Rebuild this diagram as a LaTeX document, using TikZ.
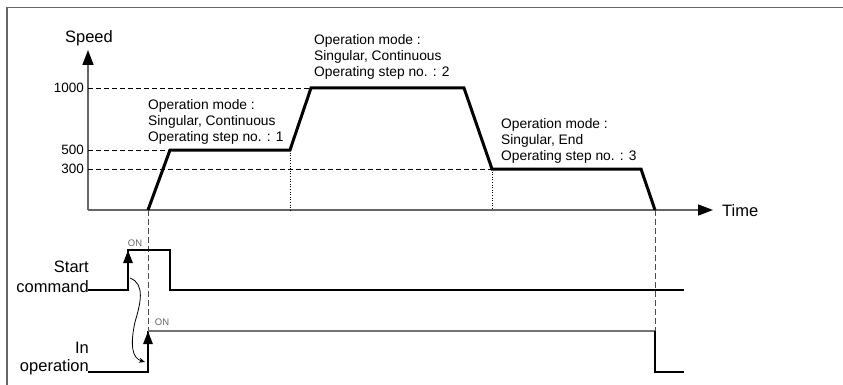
\documentclass[tikz,border=0pt]{standalone}
\usepackage{fontspec}
\setmainfont{Liberation Sans}
\usetikzlibrary{arrows.meta}
\begin{document}
\begin{tikzpicture}[x=1pt,y=-1pt,
  axis/.style={draw=black!60,line width=1.6pt},
  prof/.style={line width=3pt,line join=miter},
  guide/.style={line width=0.8pt,dash pattern=on 5pt off 3pt},
  vdash/.style={black!70,line width=0.8pt,dash pattern=on 6pt off 3pt},
  vdot/.style={line width=0.6pt,dotted},
  sig/.style={line width=1.3pt},
  bigtip/.style={-{Triangle[length=15pt,width=11pt,color=black]}},
  edge/.style={line width=2.6pt,-{Triangle[length=13pt,width=9pt]}},
  lbl/.style={font=\fontsize{13.8}{16}\selectfont,align=left,inner sep=0pt,anchor=west},
  big/.style={font=\fontsize{16.5}{19}\selectfont,inner sep=0pt},
  ytick/.style={font=\fontsize{13.5}{16}\selectfont,inner sep=0pt,anchor=east},
  onl/.style={font=\fontsize{9.5}{11}\selectfont,text=black!60,inner sep=0pt}]
\useasboundingbox (0,0) rectangle (843,385);
% frame
\draw[black!60,line width=1.5pt] (7,385) -- (7,7.5) -- (843,7.5);
% coordinates
\coordinate (o) at (88,210);
\coordinate (ytop) at (88,50);
\coordinate (xend) at (713,210);
\coordinate (p0) at (148,210);
\coordinate (p1) at (170,150);
\coordinate (p2) at (290,150);
\coordinate (p3) at (311,88);
\coordinate (p4) at (464,88);
\coordinate (p5) at (492,169);
\coordinate (p6) at (641,169);
\coordinate (p7) at (655,210);
\coordinate (y1000) at (88,88);
\coordinate (y500) at (88,150);
\coordinate (y300) at (88,169);
% axes
\draw[axis,bigtip] (o) -- (ytop);
\draw[axis,bigtip] (o) -- (xend);
\node[big] (speed) at (89,38) {Speed};
\node[big,anchor=west] (time) at (722,211) {Time};
% guides
\draw[guide] (y1000) -- (p3);
\draw[guide] (y500) -- (p1);
\draw[guide] (y300) -- (p5);
\node[ytick] (t1000) at (84,88) {1000};
\node[ytick] (t500) at (84,150) {500};
\node[ytick] (t300) at (84,169) {300};
\draw[vdot] (p2) -- (290,210);
\draw[vdot] (p5) -- (492,210);
% profile
\draw[prof] (p0) -- (p1) -- (p2) -- (p3) -- (p4) -- (p5) -- (p6) -- (p7);
% annotations
\node[lbl] (a1) at (148,122) {Operation mode :\\Singular, Continuous\\Operating step no. : 1};
\node[lbl] (a2) at (314,57) {Operation mode :\\Singular, Continuous\\Operating step no. : 2};
\node[lbl] (a3) at (501,141) {Operation mode :\\Singular, End\\Operating step no. : 3};
% vertical dashed
\draw[vdash] (p0) -- (148,331);
\draw[vdash] (p7) -- (655,331);
% start command signal
\coordinate (s0) at (88,290);
\coordinate (s1) at (128,290);
\coordinate (s2) at (128,250);
\coordinate (s3) at (170,250);
\coordinate (s4) at (170,290);
\coordinate (s5) at (684,290);
\draw[sig] (s0) -- (s1) -- (s2) -- (s3) -- (s4) -- (s5);
\draw[edge] (s1) -- (s2);
\node[big,anchor=east] (st1) at (89,267) {Start};
\node[big,anchor=east] (st2) at (89,287) {command};
\node[onl] (on1) at (135,243) {ON};
% in operation signal
\coordinate (i0) at (88,372);
\coordinate (i1) at (148,372);
\coordinate (i2) at (148,331);
\coordinate (i3) at (655,331);
\coordinate (i4) at (655,372);
\coordinate (i5) at (684,372);
\draw[sig] (i0) -- (i1) -- (i2);
\draw[black!55,line width=1.6pt] (i2) -- (i3);
\draw[sig] (i3) -- (i4) -- (i5);
\draw[edge] (i1) -- (i2);
\node[big,anchor=east] (io1) at (89,348) {In};
\node[big,anchor=east] (io2) at (89,367) {operation};
\node[onl] (on2) at (162,322) {ON};
% causal curve
\coordinate (c0) at (130,278);
\coordinate (c1) at (135,322);
\coordinate (c2) at (145,362);
\draw[line width=0.8pt,-{Stealth[length=6pt,width=5pt]}] (c0) .. controls (146,284) and (140,305) .. (c1) .. controls (130,345) and (132,358) .. (c2);
\end{tikzpicture}
\end{document}
